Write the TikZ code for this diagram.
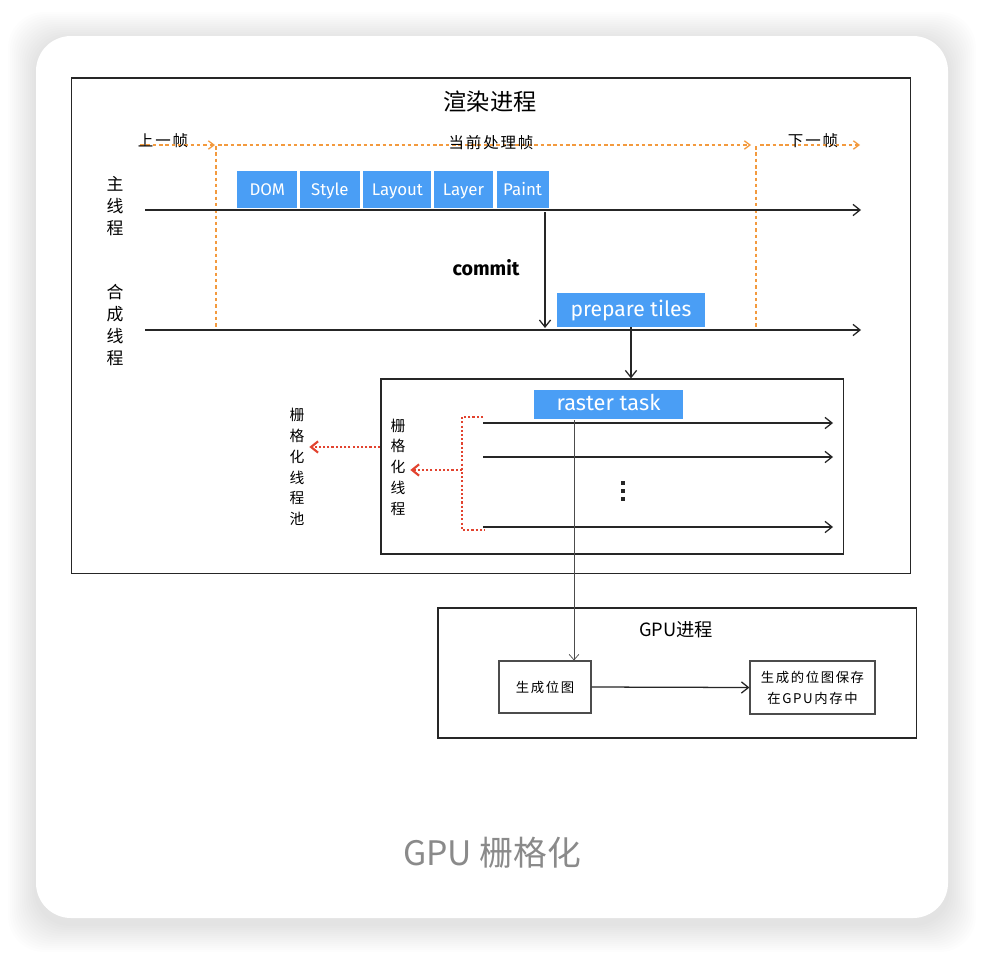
\documentclass[tikz,border=0pt]{standalone}
\usepackage{fontspec}
\setmainfont{Noto Sans CJK SC}
\setsansfont{Fira Sans}
\newfontfamily\cjk{Noto Sans CJK SC}
\newfontfamily\cjkwide[LetterSpace=12]{Noto Sans CJK SC}
\usetikzlibrary{positioning,arrows.meta,calc}
\definecolor{rbblue}{HTML}{4A9EF5}
\definecolor{rborange}{HTML}{F39A3E}
\definecolor{rbred}{HTML}{E2432F}
\definecolor{rbgray}{HTML}{8A8A8A}

\begin{document}
\begin{tikzpicture}[x=0.025cm, y=-0.025cm,
    font=\cjk,
    frame/.style={draw=black!85, line width=0.8pt, inner sep=0pt},
    stage/.style={fill=rbblue, text=white, font=\sffamily\fontsize{12}{14}\selectfont,
                  minimum height=0.925cm, inner sep=0pt, text height=2.1ex, text depth=0.45ex},
    thread/.style={draw=black!85, line width=0.9pt, -{Straight Barb[length=5pt,width=8pt]}},
    vlabel/.style={align=center, font=\cjk\fontsize{12}{15.5}\selectfont},
    rlabel/.style={align=center, font=\cjk\fontsize{10.5}{14.8}\selectfont},
    framemark/.style={draw=rborange, line width=0.9pt, dash pattern=on 2.5pt off 2pt},
    framearr/.style={framemark, -{Straight Barb[length=4pt,width=6pt]}},
    framelbl/.style={font=\cjkwide\fontsize{11}{13}\selectfont},
    redarr/.style={draw=rbred, line width=1.5pt, dash pattern=on 1.5pt off 1.5pt},
    memtext/.style={font=\cjkwide\fontsize{9.5}{15}\selectfont, align=center}
  ]
  \useasboundingbox[fill=white] (0,0) rectangle (984,954);

  % card with soft shadow
  \foreach \s in {1,...,14}
    \fill[black, opacity=0.008, rounded corners=0.9cm]
      (36-2*\s,40-2*\s) rectangle (948+2*\s,924+2*\s);
  \fill[white, rounded corners=0.875cm] (36,36) rectangle (948,918);

  % render process
  \node[frame, minimum width=20.95cm, minimum height=12.375cm] (render) at (491,325.5) {};
  \node[font=\cjk\fontsize{16.5}{18}\selectfont] (rtitle) at (490,102) {渲染进程};

  % frames
  \coordinate (f0) at (140,145);
  \coordinate (f1) at (215,145);
  \coordinate (f2) at (218,145);
  \coordinate (f3) at (751,145);
  \coordinate (f4) at (760,145);
  \coordinate (f5) at (860,145);
  \draw[framearr] (f0) -- (f1);
  \draw[framearr] (f2) -- (f3);
  \draw[framearr] (f4) -- (f5);
  \draw[framemark] (216,146) -- (216,330);
  \draw[framemark] (756,146) -- (756,330);
  \node[framelbl] (prevf) at (163,141) {上一帧};
  \node[framelbl] (curf) at (491,143) {当前处理帧};
  \node[framelbl] (nextf) at (813,141) {下一帧};

  % main thread
  \node[vlabel] (mainlbl) at (115,206) {主\\线\\程};
  \coordinate (mainS) at (145,210);
  \coordinate (mainE) at (861,210);
  \draw[thread] (mainS) -- (mainE);
  \node[stage, minimum width=1.5cm, anchor=south west] (dom) at (237,208) {DOM};
  \node[stage, minimum width=1.5cm, right=0.05cm of dom] (style) {Style};
  \node[stage, minimum width=1.7cm, right=0.075cm of style] (layout) {Layout};
  \node[stage, minimum width=1.475cm, right=0.05cm of layout] (layer) {Layer};
  \node[stage, minimum width=1.3cm, right=0.075cm of layer] (paint) {Paint};

  % compositor thread
  \node[vlabel] (complbl) at (115,325) {合\\成\\线\\程};
  \coordinate (compS) at (145,330);
  \coordinate (compE) at (861,330);
  \draw[thread] (compS) -- (compE);
  \coordinate (cmtop) at (545,212);
  \coordinate (cmbot) at (545,328);
  \draw[thread] (cmtop) -- (cmbot);
  \node[font=\sffamily\bfseries\fontsize{14}{16}\selectfont] (commit) at (486,268) {commit};
  \node[stage, minimum width=3.7cm, minimum height=0.85cm,
        font=\sffamily\fontsize{15}{17}\selectfont] (tiles) at (631,310) {prepare tiles};

  % raster threads
  \node[frame, minimum width=11.55cm, minimum height=4.375cm] (raster) at (612,466.5) {};
  \draw[thread] (tiles.south) -- (tiles.south |- raster.north);
  \node[stage, minimum width=3.725cm, minimum height=0.725cm,
        font=\sffamily\fontsize{15.5}{17}\selectfont] (task) at (608.5,404.5) {raster task};
  \foreach \yy/\k in {423/1,457/2,527/3} {
    \coordinate (ts\k) at (483,\yy);
    \coordinate (te\k) at (833,\yy);
    \draw[thread] (ts\k) -- (te\k);
  }
  \coordinate (vdots) at (623,491);
  \foreach \d in {-8,0,8}
    \fill[black!85] ($(vdots)+(-1.6,\d-1.6)$) rectangle ++(3.2,3.2);
  \draw[redarr] (483,417) -- (462,417) -- (462,530) -- (485,530);
  \coordinate (brk) at (462,470);
  \node[rlabel] (rthread) at (398,467) {栅\\格\\化\\线\\程};
  \draw[redarr, -{Straight Barb[length=5pt,width=8pt]}] (brk) -- (rthread.east |- brk);
  \node[rlabel] (rpool) at (297,467) {栅\\格\\化\\线\\程\\池};
  \coordinate (poolarr) at (380,447);
  \draw[redarr, -{Straight Barb[length=5pt,width=8pt]}] (poolarr) -- (rpool.east |- poolarr);

  % GPU process
  \node[frame, minimum width=11.95cm, minimum height=3.25cm] (gpu) at (677,673) {};
  \node[font=\cjk\fontsize{13}{15}\selectfont] (gtitle) at (676,630) {GPU进程};
  \node[frame, draw=black!70, minimum width=2.3cm, minimum height=1.3cm, memtext] (bitmap) at (545,687) {生成位图};
  \node[frame, draw=black!70, minimum width=3.125cm, minimum height=1.325cm, memtext] (store) at (812.5,687.5) {生成的位图保存\\在GPU内存中};
  \coordinate (tap) at (574,420);
  \draw[draw=black!70, line width=0.5pt, -{Straight Barb[length=4pt,width=7pt]}] (tap) -- (tap |- bitmap.north);
  \draw[thread] (bitmap.east) -- (store.west);

  % caption
  \node[text=rbgray, font=\cjk\fontsize{24}{28}\selectfont] (caption) at (492,853) {GPU 栅格化};
\end{tikzpicture}
\end{document}
